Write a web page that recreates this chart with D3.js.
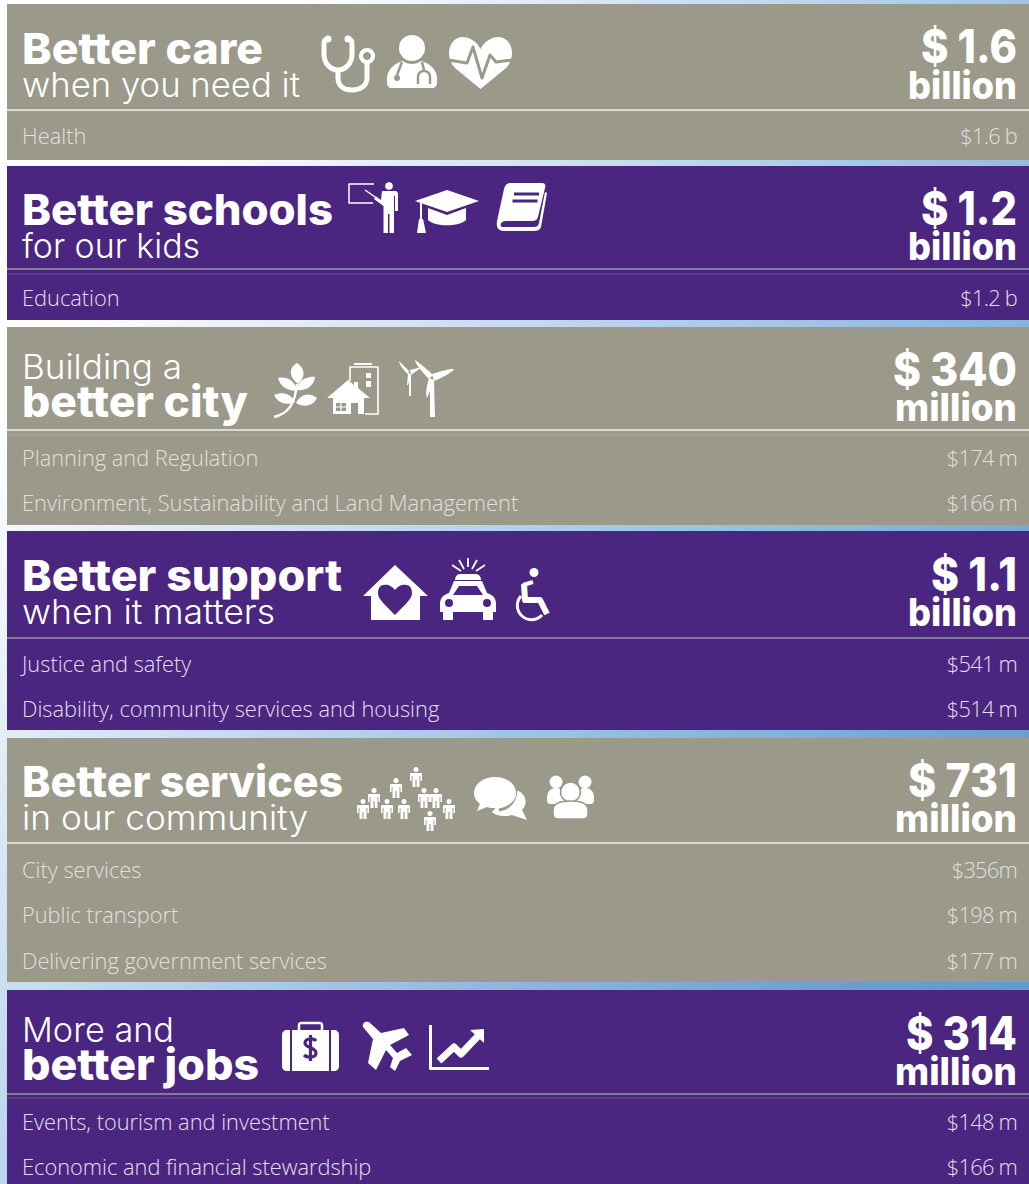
<!DOCTYPE html>
<html>
<head>
<meta charset="utf-8">
<title>Budget themes</title>
<script src="https://cdn.jsdelivr.net/npm/d3@7"></script>
<style>
    html, body { margin: 0; padding: 0; background: #fff; overflow: hidden; }
    svg { display: block; }
    .bold { font-family: Inter, sans-serif; font-weight: 800; fill: #fff; }
    .light { font-family: Inter, sans-serif; font-weight: 300; fill: #fff; }
    .item { font-family: "Open Sans", sans-serif; font-weight: 300; font-size: 21.8px; fill: #fff; }
    .amount { letter-spacing: -0.75px; }
</style>
</head>
<body>
<div id="chart"></div>
<script>
// Values
const boldLines = ["Better care", "Better schools", "better city", "Better support", "Better services", "better jobs"];
const lightLines = ["when you need it", "for our kids", "Building a", "when it matters", "in our community", "More and"];
const totals = [1.6, 1.2, 340, 1.1, 731, 314];
const totalUnits = ["billion", "billion", "million", "billion", "million", "million"];
const itemNames = [
    ["Health"],
    ["Education"],
    ["Planning and Regulation", "Environment, Sustainability and Land Management"],
    ["Justice and safety", "Disability, community services and housing"],
    ["City services", "Public transport", "Delivering government services"],
    ["Events, tourism and investment", "Economic and financial stewardship"],
];
const itemValues = [
    ["$1.6 b"],
    ["$1.2 b"],
    ["$174 m", "$166 m"],
    ["$541 m", "$514 m"],
    ["$356m", "$198 m", "$177 m"],
    ["$148 m", "$166 m"],
];

// Layout of the six panels, in pixels
const W = 1029, H = 1184;
const panelTop = [4, 166, 327, 531, 738, 990];
const panelBottom = [160, 320, 525, 730, 982, 1190];
const ruleY = [110, 269, 430, 638, 843, 1094];
const faintY = [112, 274, 435, null, null, 1098];
const firstRowY = [136, 298, 458, 664, 870, 1122];
const rowStep = 45.6;
const boldBase = [64, 225, 417, 591, 797, 1080];
const lightBase = [97, 258, 379, 624, 830, 1042];
const boldWidth = [241, 311, 226, 320, 321, 237];
const lightWidth = [278, 178, 160, 253, 286, 152];
const totalBase = [63, 225, 386, 591, 797, 1050];
const unitBase = [99, 260, 421, 626, 832, 1085];
const totalWidth = [96, 96, 124, 86, 109, 111];
const unitWidth = [109, 109, 122, 109, 122, 122];
const grey = "#9b998a", purple = "#4a2680";
const colors = [grey, purple, grey, purple, grey, purple];

const svg = d3.select("#chart").append("svg").attr("width", W).attr("height", H);

// backdrop runs diagonally, white near the top left, blue at the bottom right
const grad = svg.append("defs").append("linearGradient")
    .attr("id", "bg").attr("gradientUnits", "userSpaceOnUse")
    .attr("x1", 0).attr("y1", 0).attr("x2", 1170).attr("y2", 819);
grad.append("stop").attr("offset", 0.17).attr("stop-color", "#ffffff");
grad.append("stop").attr("offset", 0.59).attr("stop-color", "#a0c4e6");
grad.append("stop").attr("offset", 0.88).attr("stop-color", "#6c9ed0");
grad.append("stop").attr("offset", 1).attr("stop-color", "#5f9ad0");
svg.append("rect").attr("width", W).attr("height", H).attr("fill", "url(#bg)");

const panels = svg.selectAll("g.panel")
    .data(d3.range(6))
    .enter()
    .append("g")
    .attr("class", "panel");

panels.append("rect")
    .attr("x", 7)
    .attr("y", (i) => panelTop[i])
    .attr("width", W - 7)
    .attr("height", (i) => panelBottom[i] - panelTop[i])
    .attr("fill", (i) => colors[i]);

panels.append("line")
    .attr("x1", 7).attr("x2", W)
    .attr("y1", (i) => ruleY[i]).attr("y2", (i) => ruleY[i])
    .attr("stroke", (i) => (colors[i] == grey ? "#f2f1ec" : "#9a96a0"))
    .attr("stroke-width", 1.5);

panels.filter((i) => faintY[i] != null).append("line")
    .attr("x1", 7).attr("x2", W)
    .attr("y1", (i) => faintY[i]).attr("y2", (i) => faintY[i])
    .attr("stroke", (i) => (colors[i] == grey ? "#aaa899" : "#6a4c98"))
    .attr("stroke-width", 1);

panels.append("text")
    .attr("class", "bold")
    .attr("x", 22)
    .attr("y", (i) => boldBase[i])
    .attr("font-size", 43)
    .attr("textLength", (i) => boldWidth[i])
    .attr("lengthAdjust", "spacingAndGlyphs")
    .text((i) => boldLines[i]);

panels.append("text")
    .attr("class", "light")
    .attr("x", 22)
    .attr("y", (i) => lightBase[i])
    .attr("font-size", 34)
    .attr("textLength", (i) => lightWidth[i])
    .attr("lengthAdjust", "spacingAndGlyphs")
    .text((i) => lightLines[i]);

panels.append("text")
    .attr("class", "bold")
    .attr("x", 1017)
    .attr("y", (i) => totalBase[i])
    .attr("text-anchor", "end")
    .attr("font-size", 46)
    .attr("textLength", (i) => totalWidth[i])
    .attr("lengthAdjust", "spacingAndGlyphs")
    .text((i) => "$ " + totals[i]);

panels.append("text")
    .attr("class", "bold")
    .attr("x", 1017)
    .attr("y", (i) => unitBase[i])
    .attr("text-anchor", "end")
    .attr("font-size", 38)
    .attr("textLength", (i) => unitWidth[i])
    .attr("lengthAdjust", "spacingAndGlyphs")
    .text((i) => totalUnits[i]);

// Rows under the rule
panels.each(function (i) {
    const rows = d3.select(this).selectAll("g.row")
        .data(itemNames[i].map((name, j) => ({ name: name, value: itemValues[i][j], j: j })))
        .enter()
        .append("g")
        .attr("class", "row")
        .attr("transform", (d) => `translate(0,${firstRowY[i] + d.j * rowStep})`);
    rows.append("text")
        .attr("class", "item")
        .attr("x", 22)
        .attr("dy", "0.35em")
        .attr("opacity", colors[i] == grey ? 0.7 : 0.85)
        .text((d) => d.name);
    rows.append("text")
        .attr("class", "item amount")
        .attr("x", 1017)
        .attr("dy", "0.35em")
        .attr("text-anchor", "end")
        .attr("opacity", colors[i] == grey ? 0.7 : 0.85)
        .text((d) => d.value);
});

// Icons: each helper draws in its own box, white on the panel colour
function place(x, y) {
    return svg.append("g").attr("transform", `translate(${x},${y})`).attr("fill", "#fff");
}
function fill(g, d) {
    return g.append("path").attr("d", d);
}
function line(g, d, w, color = "#fff") {
    return g.append("path").attr("d", d).attr("fill", "none").attr("stroke", color)
        .attr("stroke-width", w).attr("stroke-linejoin", "round");
}
function dot(g, x, y, r, color = "#fff") {
    return g.append("circle").attr("cx", x).attr("cy", y).attr("r", r).attr("fill", color);
}

function stethoscope(g) {
    line(g, "M6,3 C2,3 2,6 2,10 L2,18 C2,28 9,34 16,34 C23,34 30,28 30,18 L30,10 C30,6 30,3 26,3", 5);
    line(g, "M16,34 L16,42 C16,50 22,54 30,54 C38,54 45,50 45,42 L45,27", 5);
    dot(g, 6, 3, 3.5);
    dot(g, 26, 3, 3.5);
    line(g, "M45,14 a6,6 0 1,1 -0.01,0", 4);
}
function doctor(g, bg) {
    dot(g, 25, 11, 13);
    fill(g, "M0,42 C0,32 8,26 16,24 C20,28 30,28 34,24 C42,26 50,32 50,42 L50,46 C50,49 48,51 45,51 L5,51 C2,51 0,49 0,46Z");
    line(g, "M15,25 L10,38 M35,25 L37,33", 2.5, bg);
    dot(g, 10, 41, 3, bg);
    line(g, "M31,47 L31,40 C31,32 43,32 43,40 L43,47", 2.5, bg);
}
function heart(g, bg) {
    fill(g, "M31.5,12 C27,3 19,0 14,0 C5,0 0,8 0,16 C0,22 2,27 6,31 L31.5,52 L57,31 C61,27 63,22 63,16 C63,8 58,0 49,0 C44,0 36,3 31.5,12Z");
    line(g, "M-1,23 L18,26 L24,10 L33,41 L41,18 L47,25 L64,23", 3, bg);
}
function teacher(g) {
    line(g, "M26,2 L1,2 L1,21 L25,21", 1.5);
    line(g, "M17,8 L30,17", 1.5);
    dot(g, 41, 4, 3.8);
    fill(g, "M34,9 L47,9 C49,9 50,10 50,12 L50,29 L47,29 L47,14 L46,14 L46,51 L41.5,51 L41.5,32 L40,32 L40,51 L35.5,51 L35.5,24 L26,17 L28,14.5 L33,18 Z");
}
function cap(g) {
    fill(g, "M32,0 L64,11 L32,22 L0,11Z");
    fill(g, "M13,18 L32,25 L51,18 L51,30 C44,37 20,37 13,30Z");
    line(g, "M6,13 L6,30", 2);
    fill(g, "M4,29 L8,29 L11,43 L2,43Z");
}
function book(g, bg) {
    fill(g, "M14,0 L46,0 C49,0 50,2 49,5 L42,34 C41,37 39,38 36,38 L10,38 C5,38 3,42 6,44 L38,44 C41,44 42,43 43,40 L49,9 L51,10 L45,44 C44,47 41,48 38,48 L8,48 C2,48 0,44 1,38 L8,6 C9,2 11,0 14,0Z");
    line(g, "M18,11 L43,11 M16.5,18 L41.5,18", 3, bg);
}
function sprig(g) {
    line(g, "M0,53 C14,50 21,40 23,20", 2.5);
    fill(g, "M23,-1 C31,4 32,13 24,20 C15,13 14,4 23,-1Z");
    fill(g, "M4,14 C12,12 21,16 23,27 C13,27 6,22 4,14Z");
    fill(g, "M41,13 C40,22 32,27 23,26 C24,17 32,12 41,13Z");
    fill(g, "M0,31 C9,27 17,30 21,38 C12,42 4,39 0,31Z");
    fill(g, "M43,34 C35,28 27,30 22,39 C30,44 39,42 43,34Z");
}
function houseBlock(g, bg) {
    line(g, "M23,18 L23,4 L51,4 L51,51 L38,51", 1.6);
    line(g, "M27,1 L45,1", 2);
    fill(g, "M39,10 L44,10 L44,15 L39,15Z M39,18 L44,18 L44,24 L39,24Z");
    fill(g, "M0,35 L21,17 L27,22 L27,19 L31,19 L31,25 L43,35 L37,35 L37,51 L6,51 L6,35Z");
    fill(g, "M9,40 L19,40 L19,48 L9,48Z M24,40 L31,40 L31,51 L24,51Z").attr("fill", bg);
    line(g, "M14,40 L14,48 M9,44 L19,44", 1.2);
}
function turbines(g) {
    fill(g, "M31,20 L35,20 L36,56 L31,56Z");
    fill(g, "M33,13 C42,10 50,8 55,8 C55,10 45,16 35,20Z");
    fill(g, "M34,14 C30,10 24,5 16,-1 C16,3 24,12 30,18Z");
    fill(g, "M30,17 L35,19 C33,25 31,30 28,37 C26,32 28,24 30,17Z");
    fill(g, "M10,13 L12,13 L12,35 L10,35Z");
    fill(g, "M10,10 L0,0 C0,3 5,10 9,13Z");
    fill(g, "M11,9 L23,6 L12,14Z");
    fill(g, "M9,12 L12,13 L9,24 L8,24Z");
}
function shelter(g, bg) {
    fill(g, "M32,0 L65,31 L57,31 L57,55 L8,55 L8,31 L0,31Z");
    fill(g, "M32,25 C29,21 25,19 21,20 C16,20 15,25 15,28 C15,33 19,37 32,50 C45,37 49,33 49,28 C49,25 48,20 43,20 C39,19 35,21 32,25Z").attr("fill", bg);
}
function policeCar(g, bg) {
    line(g, "M28,0 L28,9 M19,2 L24,11 M37,2 L32,11 M12,7 L21,13 M45,7 L36,13", 1.8);
    fill(g, "M15,22 C15,18 18,16 20,16 L36,16 C38,16 41,18 41,22Z");
    fill(g, "M14,23 L42,23 L47,35 C53,37 56,40 56,46 L56,54 L53,54 L53,62 L43,62 L43,54 L13,54 L13,62 L3,62 L3,54 L0,54 L0,46 C0,40 3,37 9,35Z");
    fill(g, "M19,28 L37,28 L43,37 L13,37Z").attr("fill", bg);
    dot(g, 9, 45, 4, bg);
    dot(g, 47, 45, 4, bg);
}
function wheelchair(g) {
    dot(g, 21, 4.5, 4.5);
    line(g, "M10,17 L20,14", 4);
    line(g, "M11,16 L12,32 L27,32 L34,46", 6);
    line(g, "M8,28 A14,14 0 1,0 29,47", 3);
}
function person(g, x, y) {
    const p = g.append("g").attr("transform", `translate(${x},${y})`);
    dot(p, 0, -7.5, 2.5);
    fill(p, "M-5,-4 L5,-4 C6,-4 6,-3 6,-2 L6,4 L4.4,4 L4.4,-1 L3.5,-1 L3.5,10 L0.6,10 L0.6,3 L-0.6,3 L-0.6,10 L-3.5,10 L-3.5,-1 L-4.4,-1 L-4.4,4 L-6,4 L-6,-2 C-6,-3 -6,-4 -5,-4Z");
}
function crowd(g) {
    const spots = [[6, 41], [17, 30], [30, 41], [39, 20], [47, 41], [59, 9], [67, 30], [79, 30], [92, 41], [73, 53]];
    spots.forEach((s) => person(g, s[0], s[1]));
}
function speech(g, bg) {
    fill(g, "M38,12 C52,14 55,26 48,33 L53,43 L38,38 C30,40 22,39 18,35 Z");
    line(g, "M37,2 C46,12 42,30 25,33", 3, bg);
    fill(g, "M21,0 C33,0 42,7 42,16 C42,25 33,31 21,31 C18,31 15,31 13,30 L3,34 L6,27 C2,24 0,20 0,16 C0,7 9,0 21,0Z");
}
function group(g, bg) {
    dot(g, 10, 8, 6.5);
    dot(g, 39, 8, 6.5);
    fill(g, "M1,24 C1,17 5,14 10,14 C15,14 19,17 19,22 L19,30 L4,30 C2,30 1,28 1,26Z");
    fill(g, "M48,24 C48,17 44,14 39,14 C34,14 30,17 30,22 L30,30 L45,30 C47,30 48,28 48,26Z");
    dot(g, 24.5, 18, 10).attr("stroke", bg).attr("stroke-width", 1.5);
    fill(g, "M7,36 C7,30 14,27 24.5,27 C35,27 42,30 42,36 L42,40 C42,43 40,45 37,45 L12,45 C9,45 7,43 7,40Z").attr("stroke", bg).attr("stroke-width", 1.5);
}
function briefcase(g, bg) {
    line(g, "M18,8 L18,3 C18,2 19,1 20,1 L39,1 C40,1 41,2 41,3 L41,8", 2.5);
    fill(g, "M6,8 L9,8 L9,49 L6,49 C3,49 1,47 1,44 L1,13 C1,10 3,8 6,8Z");
    fill(g, "M11,8 L48,8 L48,49 L11,49Z");
    fill(g, "M50,8 L53,8 C56,8 58,10 58,13 L58,44 C58,47 56,49 53,49 L50,49Z");
    line(g, "M35,19 C33,16 24,16 24,21 C24,26 35,25 35,31 C35,36 26,36 23,33 M29.5,13 L29.5,39", 3.2, bg);
}
function plane(g) {
    fill(g, "M1,6 C0,2 3,0 7,1 L19,12 L42,7 L47,14 L28,24 L35,32 L44,27 L50,34 L38,40 L33,50 L28,46 L31,37 L24,29 L14,49 L6,42 L11,18Z");
}
function rising(g) {
    line(g, "M1.5,0 L1.5,43.5 L60,43.5", 3);
    line(g, "M10,36 L25,22 L32,29 L49,11", 7);
    fill(g, "M41,5 L55,4 L55,18Z");
}

const bgOf = (i) => colors[i];
stethoscope(place(322, 36));
doctor(place(387, 37), bgOf(0));
heart(place(449, 37), bgOf(0));
teacher(place(348, 182));
cap(place(415, 190));
book(place(496, 183), bgOf(1));
sprig(place(274, 364));
houseBlock(place(327, 363), bgOf(2));
turbines(place(399, 361));
shelter(place(363, 565), bgOf(3));
policeCar(place(440, 558), bgOf(3));
wheelchair(place(513, 568));
crowd(place(357, 768));
speech(place(474, 777), bgOf(4));
group(place(546, 774), bgOf(4));
briefcase(place(281, 1022), bgOf(5));
plane(place(362, 1021));
rising(place(429, 1025));
</script>
</body>
</html>
